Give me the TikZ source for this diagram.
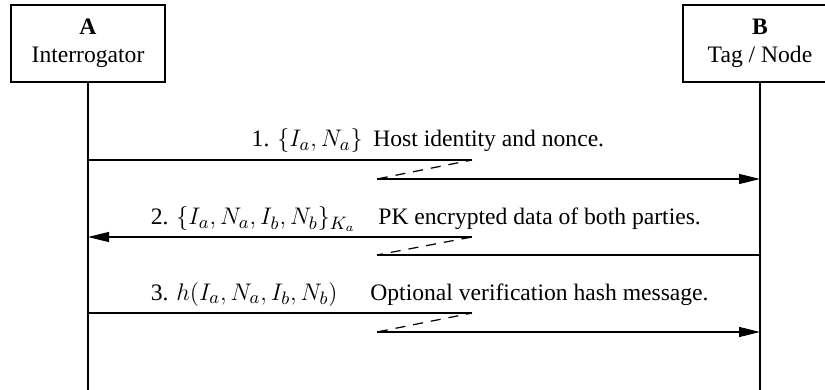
\documentclass[tikz,border=0pt]{standalone}
\usepackage{fontspec}
\setmainfont{Liberation Serif}
\usetikzlibrary{arrows.meta}
\newcommand{\bigmath}[1]{{\fontsize{12.9}{14}\selectfont$#1$}}
\begin{document}
\begin{tikzpicture}[x=0.5pt,y=-0.5pt,
  font=\fontsize{11.8}{14}\selectfont,
  entity/.style={draw,line width=0.6pt,minimum width=77pt,minimum height=38.5pt,align=center,inner sep=0pt},
  life/.style={line width=0.6pt},
  msg/.style={line width=0.6pt},
  arr/.style={msg,-{Triangle[length=10.5pt,width=5pt]}},
  brk/.style={line width=0.6pt,dash pattern=on 5pt off 4pt,dash phase=2pt},
  lblm/.style={anchor=base east,inner sep=0pt},
  lblt/.style={anchor=base west,inner sep=0pt}]
\useasboundingbox (0,0) rectangle (825,390);
% entities
\node[entity] (A) at (88,43.5) {\textbf{A}\\Interrogator};
\node[entity] (B) at (760,43.5) {\textbf{B}\\Tag / Node};
\coordinate (Aend) at (88,390);
\coordinate (Bend) at (760,390);
\draw[life] (A.south) -- (Aend);
\draw[life] (B.south) -- (Bend);
% message 1
\coordinate (m1a) at (88,160);
\coordinate (m1b) at (472,160);
\coordinate (m1c) at (377,179);
\coordinate (m1d) at (760,179);
\draw[msg] (m1a) -- (m1b);
\draw[brk] (m1b) -- (m1c);
\draw[arr] (m1c) -- (m1d);
\node[lblm] (l1m) at (363,147) {1. \bigmath{\{I_a, N_a\}}};
\node[lblt] (l1t) at (373,147) {Host identity and nonce.};
% message 2
\coordinate (m2a) at (760,255);
\coordinate (m2b) at (377,255);
\coordinate (m2c) at (472,237);
\coordinate (m2d) at (88,237);
\draw[msg] (m2a) -- (m2b);
\draw[brk] (m2b) -- (m2c);
\draw[arr] (m2c) -- (m2d);
\node[lblm] (l2m) at (356,225) {2. \bigmath{\{I_a, N_a, I_b, N_b\}_{K_a}}};
\node[lblt] (l2t) at (378,225) {PK encrypted data of both parties.};
% message 3
\coordinate (m3a) at (88,313);
\coordinate (m3b) at (472,313);
\coordinate (m3c) at (377,332);
\coordinate (m3d) at (760,332);
\draw[msg] (m3a) -- (m3b);
\draw[brk] (m3b) -- (m3c);
\draw[arr] (m3c) -- (m3d);
\node[lblm] (l3m) at (338,300) {3. \bigmath{h(I_a, N_a, I_b, N_b)}};
\node[lblt] (l3t) at (370,300) {Optional verification hash message.};
\end{tikzpicture}
\end{document}
